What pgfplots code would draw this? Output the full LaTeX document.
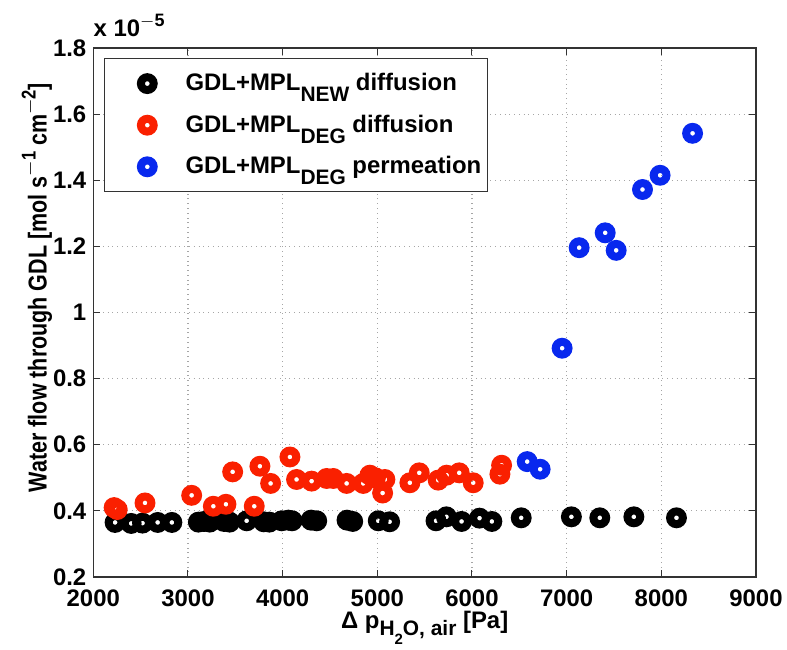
\documentclass[border=0pt]{standalone}
\usepackage{fontspec}
\setmainfont{Liberation Sans}
\newfontfamily\ylabfont[FakeStretch=0.83]{Liberation Sans}
\usepackage{pgfplots}
\pgfplotsset{compat=1.18}
\definecolor{mred}{RGB}{250,32,0}
\definecolor{mblue}{RGB}{8,40,238}
\newcommand\lsub[1]{\raisebox{-5.5bp}{\fontsize{10.5}{10.5}\selectfont\bfseries #1}}
\newcommand\xsub[1]{\raisebox{-3.6bp}{\fontsize{10.5}{10.5}\selectfont\bfseries #1}}
\newcommand\xsubsub[1]{\raisebox{-4.5bp}{\fontsize{7.5}{7.5}\selectfont\bfseries #1}}
\newcommand\ysup[1]{\raisebox{5.5bp}{\fontsize{10}{10}\selectfont\bfseries #1}}
\begin{document}
\begin{tikzpicture}
\useasboundingbox (-46.65bp,-36.5bp) rectangle (346.85bp,288.5bp);
\begin{axis}[
  scale only axis,
  width=331.35bp, height=264.5bp,
  xmin=2000, xmax=9000, ymin=0.2, ymax=1.8,
  xtick={2000,3000,...,9000},
  ytick={0.2,0.4,...,1.8},
  yticklabels={0.2,0.4,0.6,0.8,1,1.2,1.4,1.6,1.8},
  /pgf/number format/assume math mode=true,
  /pgf/number format/1000 sep={},
  scaled y ticks=false,
  tick align=inside,
  major tick length=3.3bp,
  axis line style={line width=0.6pt, black!80},
  tick style={line width=0.5pt, black!80},
  grid=major,
  grid style={dotted, line width=0.6pt, black!35},
  ticklabel style={font=\fontsize{12}{12}\selectfont\bfseries},
  xticklabel style={yshift=-3bp},
  xlabel={Δ p\xsub{H\xsubsub{2}O, air} [Pa]},
  xlabel style={font=\fontsize{12}{12}\selectfont\bfseries, at={(rel axis cs:0.5,0)}, anchor=base, yshift=-25.5bp},
  ylabel={Water flow through GDL [mol s\ysup{$-$1} cm\ysup{$-$2}]},
  ylabel style={font=\ylabfont\fontsize{13}{13}\selectfont\bfseries,
    at={([xshift=-23.3bp,yshift=12.5bp]rel axis cs:0,0.5)}, anchor=base},
  legend cell align=left,
  legend image code/.code={%
    \path[draw=none,fill=none] (-18.35bp,-10.4bp) rectangle (19.15bp,10.4bp);
    \draw[#1] plot coordinates {(0bp,0bp)};},
  legend style={at={(rel axis cs:0,1)}, anchor=north west, xshift=5.35bp, yshift=-5bp,
    font=\fontsize{12}{12}\selectfont\bfseries, draw=black!80, line width=0.6pt,
    row sep=0bp, column sep=0bp, inner xsep=3bp, inner ysep=2.1bp,
    nodes={inner sep=0bp}},
  every axis plot/.append style={only marks, mark=o, mark size=3.2bp, mark options={line width=4bp}},
  clip=false,
]
\addplot[black] coordinates {
(2230,0.365) (2400,0.362) (2520,0.363) (2680,0.365) (2830,0.365)
(3110,0.366) (3170,0.368) (3230,0.366) (3380,0.368) (3440,0.366)
(3620,0.370) (3800,0.367) (3860,0.366) (3990,0.370) (4060,0.372) (4100,0.370)
(4300,0.372) (4360,0.370) (4680,0.372) (4740,0.368) (5010,0.370) (5130,0.367)
(5620,0.370) (5730,0.382) (5890,0.368) (6080,0.378) (6210,0.368)
(6520,0.379) (7050,0.382) (7350,0.379) (7710,0.382) (8160,0.379)
};
\addlegendentry{GDL+MPL\lsub{NEW} diffusion}
\addplot[mred] coordinates {
(2220,0.410) (2253,0.404) (2546,0.424) (3039,0.447) (3268,0.414) (3401,0.420)
(3472,0.518) (3700,0.414) (3760,0.535) (3873,0.483) (4077,0.563) (4147,0.495)
(4306,0.490) (4464,0.498) (4535,0.498) (4676,0.483) (4851,0.483) (4922,0.508)
(4980,0.500) (5080,0.495) (5056,0.454) (5344,0.485) (5443,0.515) (5643,0.493)
(5732,0.508) (5865,0.515) (6013,0.485) (6295,0.511) (6313,0.538)
};
\addlegendentry{GDL+MPL\lsub{DEG} diffusion}
\addplot[mblue] coordinates {
(6583,0.549) (6720,0.526) (6952,0.892) (7132,1.196) (7407,1.241)
(7523,1.188) (7801,1.372) (7987,1.415) (8330,1.542)
};
\addlegendentry{GDL+MPL\lsub{DEG} permeation}
\node[anchor=base west, inner sep=0, font=\fontsize{12}{12}\selectfont\bfseries]
  at ([yshift=5.5bp]rel axis cs:0,1) {x 10\raisebox{5bp}{\fontsize{9}{9}\selectfont\bfseries $-$5}};
\end{axis}
\end{tikzpicture}
\end{document}
